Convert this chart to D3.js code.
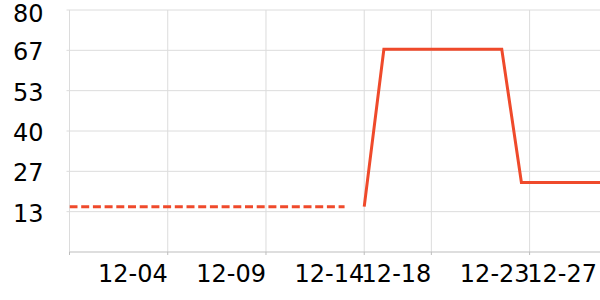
<!DOCTYPE html>
<html>
<head>
<meta charset="utf-8">
<script src="https://cdn.jsdelivr.net/npm/d3@7"></script>
<style>
  body { margin: 0; background: #fff; }
  svg text { font-family: "DejaVu Sans", sans-serif; fill: #000; }
</style>
</head>
<body>
<script>
// data
var dashDates = ["2023-11-29", "2023-11-30", "2023-12-01", "2023-12-02", "2023-12-03",
  "2023-12-04", "2023-12-05", "2023-12-06", "2023-12-07", "2023-12-08", "2023-12-09",
  "2023-12-10", "2023-12-11", "2023-12-12", "2023-12-13"];
var dashValues = [15, 15, 15, 15, 15, 15, 15, 15, 15, 15, 15, 15, 15, 15, 15];

var solidDates = ["2023-12-14", "2023-12-15", "2023-12-16", "2023-12-17", "2023-12-18",
  "2023-12-19", "2023-12-20", "2023-12-21", "2023-12-22", "2023-12-23", "2023-12-24",
  "2023-12-25", "2023-12-26", "2023-12-27"];
var solidValues = [15, 67, 67, 67, 67, 67, 67, 67, 23, 23, 23, 23, 23, 23];

// x tick positions (as shown) and their labels
var xTickTimes = ["2023-11-29T00:00", "2023-12-04T00:00", "2023-12-09T00:00", "2023-12-14T00:00",
  "2023-12-17T10:00", "2023-12-22T10:00", "2023-12-26T10:00"];
var xTickLabels = ["", "12-04", "12-09", "12-14", "12-18", "12-23", "12-27"];

var yTickValues = [0, 80 / 6, 160 / 6, 40, 320 / 6, 400 / 6, 80];

var W = 600, H = 300;
var margin = {top: 10, right: 0, bottom: 48, left: 69.5};
var width = W - margin.left - margin.right,
    height = H - margin.top - margin.bottom;

var parseDay = d3.timeParse("%Y-%m-%d");
var parseTime = d3.timeParse("%Y-%m-%dT%H:%M");

var x = d3.scaleTime()
  .domain([parseDay("2023-11-29"), parseDay("2023-12-26")])
  .range([0, width]);
var y = d3.scaleLinear().domain([0, 80]).range([height, 0]);

var svg = d3.select("body").append("svg")
  .attr("width", W)
  .attr("height", H)
  .append("g")
  .attr("transform", "translate(" + margin.left + "," + margin.top + ")");

svg.append("clipPath").attr("id", "clip")
  .append("rect").attr("x", 0).attr("y", -10).attr("width", width).attr("height", height + 20);

var xTicks = xTickTimes.map(function(t) { return parseTime(t); });

// vertical grid
svg.append("g").selectAll("line")
  .data(xTicks.filter(function(t) { return x(t) <= width; }))
  .enter().append("line")
  .attr("x1", function(d) { return x(d); })
  .attr("x2", function(d) { return x(d); })
  .attr("y1", 0).attr("y2", height)
  .attr("stroke", "#dcdcdc").attr("stroke-width", 1);

// horizontal grid
svg.append("g").selectAll("line")
  .data(yTickValues.filter(function(v) { return v > 0; }))
  .enter().append("line")
  .attr("x1", -3).attr("x2", width)
  .attr("y1", function(d) { return y(d); })
  .attr("y2", function(d) { return y(d); })
  .attr("stroke", "#dcdcdc").attr("stroke-width", 1);

// y labels (top one pushed down so it stays inside)
var fmt = d3.format(".0f");
svg.append("g").selectAll("text")
  .data(yTickValues.filter(function(v) { return v > 0; }))
  .enter().append("text")
  .attr("x", -26)
  .attr("y", function(d) { return Math.max(y(d) + 10, 12); })
  .attr("text-anchor", "end")
  .style("font-size", "24px")
  .text(function(d) { return fmt(d); });

// x axis line + ticks
svg.append("line")
  .attr("x1", 0).attr("x2", width)
  .attr("y1", height).attr("y2", height)
  .attr("stroke", "#bdbdbd").attr("stroke-width", 1);
svg.append("g").selectAll("line")
  .data(xTicks.filter(function(t) { return x(t) <= width; }))
  .enter().append("line")
  .attr("x1", function(d) { return x(d); })
  .attr("x2", function(d) { return x(d); })
  .attr("y1", height).attr("y2", height + 3)
  .attr("stroke", "#bdbdbd");

// x labels, right aligned on tick, kept inside the frame
svg.append("g").selectAll("text")
  .data(xTicks)
  .enter().append("text")
  .attr("x", function(d) { return Math.min(x(d), width - 3); })
  .attr("y", height + 30)
  .attr("text-anchor", "end")
  .style("font-size", "24px")
  .text(function(d, i) { return xTickLabels[i]; });

var line = d3.line()
  .x(function(d) { return x(d.date); })
  .y(function(d) { return y(d.value); });

var dashData = dashDates.map(function(d, i) { return {date: parseDay(d), value: dashValues[i]}; });
var solidData = solidDates.map(function(d, i) { return {date: parseDay(d), value: solidValues[i]}; });

svg.append("path")
  .datum(dashData)
  .attr("clip-path", "url(#clip)")
  .attr("fill", "none")
  .attr("stroke", "#ef4a2b")
  .attr("stroke-width", 3)
  .attr("stroke-dasharray", "8,3.7")
  .attr("d", line);

svg.append("path")
  .datum(solidData)
  .attr("clip-path", "url(#clip)")
  .attr("fill", "none")
  .attr("stroke", "#ef4a2b")
  .attr("stroke-width", 3)
  .attr("d", line);
</script>
</body>
</html>
